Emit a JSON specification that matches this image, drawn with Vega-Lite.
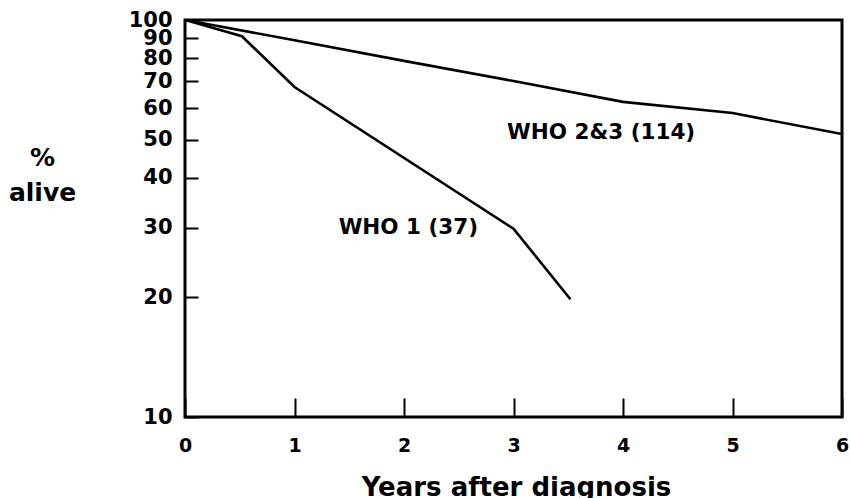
{
  "$schema": "https://vega.github.io/schema/vega-lite/v6.json",
  "width": 657,
  "height": 397,
  "autosize": {"type": "none"},
  "padding": {"left": 185, "top": 20, "right": 8, "bottom": 81},
  "background": "white",
  "config": {
    "view": {"stroke": "black", "strokeWidth": 3},
    "font": "DejaVu Sans",
    "axis": {
      "domain": false,
      "grid": false,
      "tickColor": "black",
      "tickWidth": 2,
      "labelColor": "black",
      "labelFont": "DejaVu Sans",
      "labelFontWeight": "bold",
      "labelOverlap": false,
      "labelFlush": false,
      "labelBound": false,
      "titleColor": "black",
      "titleFont": "DejaVu Sans",
      "titleFontWeight": "bold"
    }
  },
  "datasets": {
    "survival": [
      {"group": "WHO 2&3", "years": 0, "alive": 100},
      {"group": "WHO 2&3", "years": 1, "alive": 88.9},
      {"group": "WHO 2&3", "years": 2, "alive": 78.9},
      {"group": "WHO 2&3", "years": 3, "alive": 70.2},
      {"group": "WHO 2&3", "years": 4, "alive": 62.2},
      {"group": "WHO 2&3", "years": 5, "alive": 58.3},
      {"group": "WHO 2&3", "years": 6, "alive": 51.6},
      {"group": "WHO 1", "years": 0, "alive": 100},
      {"group": "WHO 1", "years": 0.52, "alive": 91},
      {"group": "WHO 1", "years": 1, "alive": 67.8},
      {"group": "WHO 1", "years": 3, "alive": 29.8},
      {"group": "WHO 1", "years": 3.52, "alive": 19.8}
    ],
    "labels": [
      {"text": "WHO 2&3 (114)", "years": 3.8, "alive": 51.9},
      {"text": "WHO 1 (37)", "years": 2.04, "alive": 29.9}
    ]
  },
  "layer": [
    {
      "data": {"name": "survival"},
      "mark": {"type": "line", "color": "black", "strokeWidth": 2.6, "clip": true},
      "encoding": {
        "x": {
          "field": "years",
          "type": "quantitative",
          "scale": {"domain": [0, 6], "nice": false, "zero": false},
          "axis": {
            "values": [0, 1, 2, 3, 4, 5, 6],
            "format": "d",
            "tickSize": -19,
            "labelPadding": 47,
            "labelBaseline": "middle",
            "labelFontSize": 19,
            "title": "Years after diagnosis",
            "titleFontSize": 26,
            "titleBaseline": "alphabetic",
            "titleX": 331,
            "titleY": 78
          }
        },
        "y": {
          "field": "alive",
          "type": "quantitative",
          "scale": {"type": "log", "domain": [10, 100], "nice": false},
          "axis": {
            "values": [10, 20, 30, 40, 50, 60, 70, 80, 90, 100],
            "format": "d",
            "tickSize": -13,
            "labelPadding": 26,
            "labelFontSize": 21,
            "title": ["%", "alive"],
            "titleAngle": 0,
            "titleAlign": "center",
            "titleBaseline": "alphabetic",
            "titleX": -143,
            "titleY": 145,
            "titleFontSize": 25,
            "titleLineHeight": 35
          }
        },
        "detail": {"field": "group"}
      }
    },
    {
      "data": {"name": "labels"},
      "mark": {"type": "text", "color": "black", "fontSize": 21.5, "font": "DejaVu Sans", "fontWeight": "bold", "align": "center", "baseline": "middle"},
      "encoding": {
        "x": {"field": "years", "type": "quantitative"},
        "y": {"field": "alive", "type": "quantitative"},
        "text": {"field": "text"}
      }
    }
  ]
}
